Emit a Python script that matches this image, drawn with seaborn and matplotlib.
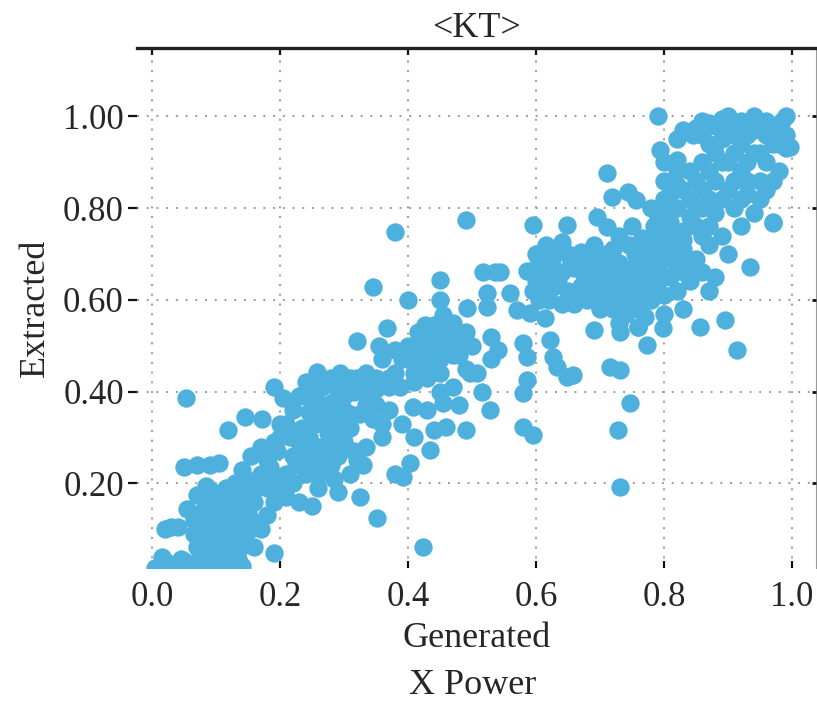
import matplotlib
matplotlib.use("Agg")
import matplotlib.pyplot as plt
import seaborn as sns
import numpy as np
import pandas as pd

# ---- data ----
low_x = [0.005, 0.03, 0.06, 0.09, 0.12, 0.14, 0.015, 0.045, 0.075, 0.10, 0.13,
         0.02, 0.04, 0.065, 0.085, 0.11, 0.135, 0.065, 0.09, 0.115, 0.14,
         0.055, 0.08, 0.10, 0.125, 0.15, 0.07, 0.095, 0.12, 0.145, 0.13, 0.155,
         0.05, 0.07, 0.09, 0.105, 0.053, 0.119, 0.145, 0.172, 0.19, 0.03, 0.05,
         0.02, 0.05, 0.08, 0.11, 0.135, 0.07, 0.095, 0.12, 0.145, 0.075, 0.10,
         0.125, 0.15, 0.08, 0.105, 0.13, 0.155, 0.085, 0.11, 0.135, 0.16, 0.14,
         0.115, 0.085]
low_y = [0.015, 0.015, 0.015, 0.015, 0.02, 0.02, 0.04, 0.035, 0.045, 0.04, 0.05,
         0.10, 0.105, 0.09, 0.075, 0.075, 0.08, 0.12, 0.105, 0.11, 0.11,
         0.145, 0.14, 0.145, 0.14, 0.14, 0.175, 0.18, 0.17, 0.175, 0.20, 0.205,
         0.235, 0.24, 0.24, 0.245, 0.386, 0.316, 0.345, 0.34, 0.41, 0.105, 0.02,
         0.03, 0.03, 0.03, 0.03, 0.035, 0.06, 0.055, 0.06, 0.065, 0.09, 0.09,
         0.095, 0.095, 0.125, 0.125, 0.125, 0.12, 0.16, 0.16, 0.155, 0.185, 0.195,
         0.19, 0.195]

band_x = [0.16, 0.17, 0.18, 0.16, 0.19, 0.175, 0.20, 0.185, 0.21, 0.195, 0.22, 0.17,
          0.20, 0.23, 0.21, 0.235, 0.22, 0.245, 0.205, 0.23, 0.255, 0.24, 0.265,
          0.25, 0.26, 0.275, 0.265, 0.29, 0.28, 0.30, 0.315, 0.24, 0.27, 0.29, 0.30,
          0.31, 0.325, 0.26, 0.285, 0.23, 0.25, 0.31, 0.32, 0.335, 0.29, 0.325,
          0.352, 0.19, 0.14, 0.155, 0.258, 0.294, 0.32, 0.335, 0.35, 0.32, 0.367,
          0.34, 0.36, 0.38, 0.36, 0.345, 0.38, 0.40, 0.49, 0.28, 0.305, 0.35, 0.37,
          0.17, 0.18, 0.19, 0.20, 0.215, 0.225, 0.235, 0.245, 0.255, 0.25, 0.27,
          0.28, 0.285, 0.27, 0.26, 0.28, 0.30, 0.31, 0.30, 0.29, 0.275, 0.31,
          0.34, 0.355, 0.37, 0.335, 0.345, 0.315, 0.33, 0.21, 0.22, 0.18, 0.195]
band_y = [0.06, 0.10, 0.13, 0.16, 0.16, 0.20, 0.19, 0.235, 0.22, 0.27, 0.26, 0.28,
          0.30, 0.29, 0.33, 0.32, 0.36, 0.355, 0.385, 0.39, 0.39, 0.42, 0.41,
          0.25, 0.28, 0.31, 0.34, 0.345, 0.375, 0.39, 0.40, 0.22, 0.23, 0.26, 0.29,
          0.32, 0.35, 0.19, 0.21, 0.16, 0.15, 0.22, 0.25, 0.28, 0.18, 0.17,
          0.124, 0.048, 0.23, 0.26, 0.443, 0.44, 0.43, 0.44, 0.43, 0.51, 0.539,
          0.39, 0.30, 0.22, 0.33, 0.628, 0.748, 0.60, 0.775, 0.43, 0.425, 0.405, 0.42,
          0.22, 0.25, 0.29, 0.33, 0.30, 0.24, 0.27, 0.30, 0.33, 0.37, 0.36,
          0.33, 0.29, 0.26, 0.215, 0.24, 0.31, 0.35, 0.36, 0.40, 0.42, 0.43,
          0.41, 0.42, 0.43, 0.37, 0.34, 0.27, 0.24, 0.17, 0.20, 0.19, 0.21]

mid_x = [0.355, 0.36, 0.38, 0.37, 0.39, 0.40, 0.41, 0.42, 0.43, 0.44, 0.45, 0.46,
         0.47, 0.48, 0.49, 0.50, 0.415, 0.44, 0.455, 0.47, 0.427, 0.45, 0.45,
         0.492, 0.517, 0.536, 0.586, 0.523, 0.523, 0.559, 0.57, 0.59, 0.614,
         0.53, 0.54, 0.53, 0.508, 0.516, 0.528, 0.586, 0.58, 0.58, 0.595, 0.58,
         0.586, 0.622, 0.627, 0.633, 0.648, 0.658, 0.408, 0.43, 0.455, 0.44, 0.46,
         0.49, 0.434, 0.403, 0.392, 0.388, 0.497, 0.424, 0.37, 0.35, 0.39, 0.41,
         0.45, 0.47, 0.48, 0.544, 0.595, 0.648, 0.716, 0.731, 0.747, 0.728, 0.731,
         0.38, 0.40, 0.42, 0.43, 0.45, 0.46, 0.47, 0.49, 0.48, 0.44, 0.42, 0.41,
         0.43, 0.45]
mid_y = [0.50, 0.47, 0.44, 0.41, 0.47, 0.50, 0.44, 0.49, 0.52, 0.46, 0.50, 0.53,
         0.48, 0.51, 0.45, 0.50, 0.53, 0.545, 0.567, 0.55, 0.545, 0.643, 0.60,
         0.582, 0.661, 0.661, 0.663, 0.615, 0.585, 0.615, 0.578, 0.571, 0.56,
         0.52, 0.49, 0.47, 0.44, 0.40, 0.36, 0.425, 0.397, 0.323, 0.305, 0.506,
         0.475, 0.512, 0.475, 0.454, 0.432, 0.436, 0.366, 0.36, 0.375, 0.316, 0.323,
         0.316, 0.273, 0.244, 0.214, 0.41, 0.44, 0.061, 0.36, 0.37, 0.33, 0.30,
         0.40, 0.41, 0.37, 0.66, 0.763, 0.763, 0.454, 0.447, 0.375, 0.316, 0.192,
         0.49, 0.47, 0.46, 0.49, 0.47, 0.50, 0.52, 0.53, 0.48, 0.52, 0.51, 0.42,
         0.43, 0.44]

right_x = [0.61, 0.63, 0.65, 0.62, 0.64, 0.66, 0.68, 0.63, 0.65, 0.67, 0.69, 0.71,
           0.66, 0.68, 0.70, 0.72, 0.70, 0.72, 0.74, 0.69, 0.71, 0.73, 0.60, 0.62,
           0.64, 0.74, 0.76, 0.75, 0.77, 0.79, 0.76, 0.78, 0.80, 0.82, 0.77, 0.79,
           0.81, 0.83, 0.85, 0.74, 0.76, 0.78, 0.80, 0.82, 0.84, 0.86, 0.73, 0.76,
           0.80, 0.83, 0.87, 0.88, 0.73, 0.75, 0.72, 0.798, 0.856, 0.895, 0.914,
           0.773, 0.731, 0.69, 0.76, 0.77, 0.711, 0.718, 0.744, 0.757, 0.695, 0.711,
           0.615, 0.64, 0.655, 0.675, 0.695, 0.715, 0.735, 0.73, 0.755, 0.75, 0.765,
           0.785, 0.79, 0.81, 0.83, 0.845, 0.835, 0.815, 0.795, 0.775, 0.755, 0.745,
           0.765, 0.785, 0.68, 0.695, 0.71, 0.655, 0.635, 0.625, 0.67, 0.69, 0.705,
           0.725, 0.60, 0.60, 0.61, 0.62, 0.605, 0.595]
right_y = [0.70, 0.71, 0.70, 0.67, 0.66, 0.67, 0.68, 0.63, 0.62, 0.63, 0.64, 0.65,
           0.59, 0.60, 0.61, 0.62, 0.58, 0.58, 0.60, 0.72, 0.70, 0.68, 0.64, 0.60,
           0.59, 0.64, 0.62, 0.67, 0.66, 0.64, 0.70, 0.70, 0.69, 0.67, 0.73, 0.74,
           0.72, 0.71, 0.69, 0.57, 0.58, 0.60, 0.61, 0.62, 0.64, 0.66, 0.55, 0.54,
           0.57, 0.58, 0.62, 0.65, 0.74, 0.76, 0.71, 0.539, 0.541, 0.556, 0.49,
           0.502, 0.53, 0.534, 0.54, 0.563, 0.877, 0.825, 0.835, 0.818, 0.78, 0.759,
           0.72, 0.725, 0.685, 0.655, 0.66, 0.635, 0.645, 0.61, 0.605, 0.63, 0.645,
           0.62, 0.67, 0.65, 0.66, 0.67, 0.69, 0.70, 0.715, 0.69, 0.70, 0.72,
           0.735, 0.76, 0.62, 0.595, 0.595, 0.605, 0.645, 0.69, 0.705, 0.70, 0.68,
           0.665, 0.70, 0.67, 0.645, 0.62, 0.60, 0.62]

top_x = [0.79, 0.794, 0.82, 0.80, 0.82, 0.80, 0.82, 0.84, 0.81, 0.83, 0.85, 0.84,
         0.86, 0.88, 0.86, 0.88, 0.90, 0.84, 0.86, 0.88, 0.90, 0.92, 0.845, 0.86,
         0.88, 0.90, 0.92, 0.94, 0.96, 0.90, 0.92, 0.94, 0.96, 0.98, 0.99, 0.94,
         0.96, 0.98, 0.99, 0.95, 0.97, 0.93, 0.91, 0.89, 0.92, 0.94, 0.97, 0.934,
         0.90, 0.87, 0.86, 0.83, 0.85, 0.97, 0.997, 0.82, 0.78, 0.775,
         0.85, 0.87, 0.89, 0.91, 0.93, 0.95, 0.97, 0.93, 0.95, 0.97, 0.91, 0.89,
         0.87, 0.87, 0.89, 0.91, 0.93, 0.92, 0.95, 0.96, 0.98, 0.99, 0.985, 0.87,
         0.89, 0.85, 0.87, 0.86, 0.83, 0.81, 0.79, 0.80, 0.81, 0.83, 0.82, 0.80]
top_y = [1.00, 0.927, 0.905, 0.86, 0.85, 0.82, 0.80, 0.78, 0.77, 0.75, 0.76, 0.82,
         0.80, 0.79, 0.84, 0.86, 0.84, 0.88, 0.90, 0.92, 0.90, 0.88, 0.96, 0.96,
         0.98, 0.96, 0.94, 0.92, 0.90, 1.00, 0.99, 0.97, 0.96, 0.94, 0.93, 1.00,
         0.99, 0.98, 1.00, 0.86, 0.86, 0.83, 0.80, 0.74, 0.76, 0.79, 0.77, 0.672,
         0.70, 0.72, 0.99, 0.97, 0.975, 0.767, 0.933, 0.95, 0.80, 0.72,
         0.86, 0.88, 0.90, 0.92, 0.90, 0.92, 0.94, 0.96, 0.98, 0.965, 0.97, 0.95,
         0.94, 0.985, 0.995, 0.86, 0.86, 0.82, 0.82, 0.84, 0.88, 0.96, 0.99, 0.82,
         0.82, 0.80, 0.76, 0.74, 0.73, 0.75, 0.78, 0.80, 0.83, 0.84, 0.88, 0.90]

gen = low_x + band_x + mid_x + right_x + top_x
ext = low_y + band_y + mid_y + right_y + top_y
df = pd.DataFrame({"Generated": gen, "Extracted": ext})

x_ticks = [0.0, 0.2, 0.4, 0.6, 0.8, 1.0]
y_ticks = [0.20, 0.40, 0.60, 0.80, 1.00]

# ---- style ----
sns.set_style("white")
plt.rcParams["font.family"] = ["Liberation Serif", "DejaVu Serif"]

W, H = 817, 708
fig = plt.figure(figsize=(W / 100, H / 100), dpi=100)
L, R, T, B = 137, 816, 48, 568
ax = fig.add_axes([L / W, 1 - B / H, (R - L) / W, (B - T) / H])

sns.scatterplot(data=df, x="Generated", y="Extracted", ax=ax, color="#4EB1DD",
                s=175, linewidth=0, alpha=1.0, legend=False, zorder=3)

xlim = (-0.0234, 1.0375)
ylim = (0.0153, 1.149)
ax.set_xlim(*xlim)
ax.set_ylim(*ylim)
ax.set_xticks(x_ticks)
ax.set_xticklabels([f"{v:.1f}" for v in x_ticks])
ax.set_yticks(y_ticks)
ax.set_yticklabels([f"{v:.2f}" for v in y_ticks])

ax.grid(True, linestyle=(0, (1, 4)), color="#9a9a9a", linewidth=1.4)
ax.set_axisbelow(True)

for s in ["left", "bottom"]:
    ax.spines[s].set_visible(False)
ax.spines["top"].set_visible(True)
ax.spines["top"].set_linewidth(2.4)
ax.spines["top"].set_color("#222222")
ax.spines["right"].set_visible(True)
ax.spines["right"].set_linewidth(0.8)
ax.spines["right"].set_color("#9a9a9a")

ax.tick_params(axis="y", left=True, right=False, direction="out", length=6.5,
               width=1.6, color="#111111", labelsize=25, pad=3)
ax.tick_params(axis="x", bottom=True, top=True, direction="in", length=5,
               width=1.6, color="#111111", labelsize=25, pad=9)

# small inward ticks on the right edge
ax2 = ax.twinx()
ax2.set_ylim(*ylim)
ax2.set_yticks(y_ticks)
ax2.tick_params(axis="y", right=True, direction="in", length=3, width=2,
                color="#111111", labelright=False)
for s in ax2.spines.values():
    s.set_visible(False)
ax2.grid(False)

ax.set_xlabel("Generated", fontsize=26, labelpad=6)
ax.set_ylabel("Extracted", fontsize=26, labelpad=8)
ax.set_title("<KT>", fontsize=26, pad=8)
fig.text(473 / W, 1 - 686 / H, "X Power", fontsize=26,
         ha="center", va="center")

fig.savefig("out.png", dpi=100)
